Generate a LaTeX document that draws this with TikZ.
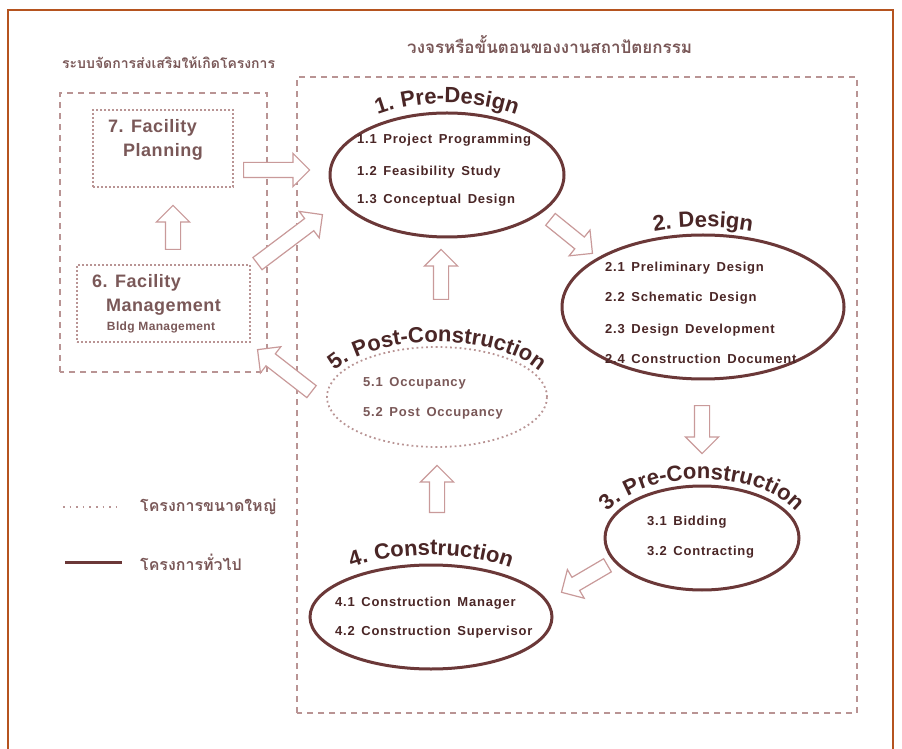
\documentclass[tikz,border=0pt]{standalone}
\usepackage{fontspec}
\setmainfont{Liberation Sans}
\newfontfamily\thaifont[Script=Thai]{Loma}
\newfontfamily\itemfont[LetterSpace=6,WordSpace=1.5]{Liberation Sans}
\newfontfamily\headfont[LetterSpace=3]{Liberation Sans}
\usetikzlibrary{shapes.arrows,shapes.geometric,decorations.text,calc}

\definecolor{framec}{HTML}{B5531F}
\definecolor{ring}{HTML}{6B3838}
\definecolor{ink}{HTML}{4A2626}
\definecolor{soft}{HTML}{7A5858}
\definecolor{dashc}{HTML}{B99494}
\definecolor{arrowc}{HTML}{C99A9A}

% block arrow between two named points: name, tail, tip
\newcommand\blockarrow[3]{%
  \path let \p1=(#2), \p2=(#3),
    \n1={atan2(\y2-\y1,\x2-\x1)}, \n2={veclen(\x2-\x1,\y2-\y1)} in
    node[fatarrow, rotate=\n1, minimum height=\n2, anchor=tail] (#1) at (#2) {};}

% curved heading over a phase ellipse: ellipse node, x radius, y radius, text
\newcommand\phasetitle[4]{%
  \path[decorate, decoration={text along path, text align=center, text color=ink,
      text={|\headfont\bfseries\fontsize{22}{26}\selectfont|#4}}]
    ($(#1.center)+(-#2,0)$) arc[start angle=180, end angle=0, x radius=#2, y radius=#3];}

\tikzset{
  dashbox/.style={draw=dashc, line width=1.2pt, dash pattern=on 6pt off 5pt},
  dotbox/.style={draw=dashc, line width=1.6pt, dash pattern=on 1.6pt off 2.4pt},
  phase/.style={draw=ring, line width=3pt, ellipse, inner sep=0pt},
  lightphase/.style={draw=dashc, line width=1.8pt, dash pattern=on 1.8pt off 3pt, ellipse, inner sep=0pt},
  item/.style={anchor=west, inner sep=0pt, text=ink, font=\itemfont\bfseries\fontsize{13}{15}\selectfont},
  softitem/.style={item, text=soft},
  facility/.style={inner sep=0pt, text=soft, font=\headfont\bfseries\fontsize{18}{20}\selectfont},
  thaititle/.style={anchor=west, inner sep=0pt, text=soft, font=\thaifont\bfseries\fontsize{15}{18}\selectfont},
  fatarrow/.style={shape=single arrow, draw=arrowc, fill=white, line width=1.2pt,
    inner sep=7pt, single arrow head extend=9pt, single arrow tip angle=90,
    single arrow head indent=0pt},
}

\begin{document}
\begin{tikzpicture}[x=1pt,y=1pt]
\useasboundingbox (0,0) rectangle (902,748);
\fill[white] (0,0) rectangle (902,748);

% outer frame
\draw[framec, line width=2pt] (8,-10) -- (8,738) -- (893,738) -- (893,-10);

% headings
\node[thaititle, font=\thaifont\bfseries\fontsize{14}{17}\selectfont] (lefthead) at (62,685) {ระบบจัดการส่งเสริมให้เกิดโครงการ};
\node[thaititle, font=\thaifont\bfseries\fontsize{17}{20}\selectfont] (righthead) at (407,703) {วงจรหรือขั้นตอนของงานสถาปัตยกรรม};

% group frames
\draw[dashbox] (60,376) rectangle (267,655);
\draw[dashbox] (297,35) rectangle (857,671);

% facility boxes
\node[dotbox, minimum width=140pt, minimum height=77pt] (plan) at (163,599.5) {};
\node[facility, anchor=west] (plan1) at (108,620) {7. Facility};
\node[facility] (plan2) at (163,596) {Planning};

\node[dotbox, minimum width=173pt, minimum height=77pt] (mgmt) at (163.5,444.5) {};
\node[facility, anchor=west] (mgmt1) at (92,465) {6. Facility};
\node[facility] (mgmt2) at (163.5,441) {Management};
\node[facility, font=\headfont\bfseries\fontsize{12}{14}\selectfont] (mgmt3) at (161,421) {Bldg Management};

% phase ellipses
\node[phase, minimum width=234pt, minimum height=124pt] (pre) at (447,573) {};
\node[phase, minimum width=282pt, minimum height=144pt] (des) at (703,441) {};
\node[phase, minimum width=194pt, minimum height=104pt] (pcon) at (702,210) {};
\node[phase, minimum width=242pt, minimum height=104pt] (con) at (431,131) {};
\node[lightphase, minimum width=220pt, minimum height=100pt] (post) at (437,351) {};

% curved headings
\phasetitle{pre}{127}{72}{1. Pre-Design}
\phasetitle{des}{150}{80}{2. Design}
\phasetitle{pcon}{105}{59}{3. Pre-Construction}
\phasetitle{con}{131}{62}{4. Construction}
\phasetitle{post}{116}{55}{5. Post-Construction}

% phase contents
\node[item] (pre1) at (357,608) {1.1 Project Programming};
\node[item] (pre2) at (357,576) {1.2 Feasibility Study};
\node[item] (pre3) at (357,548) {1.3 Conceptual Design};

\node[item] (des1) at (605,480) {2.1 Preliminary Design};
\node[item] (des2) at (605,450) {2.2 Schematic Design};
\node[item] (des3) at (605,418) {2.3 Design Development};
\node[item] (des4) at (605,389) {2.4 Construction Document};

\node[item] (pcon1) at (647,226) {3.1 Bidding};
\node[item] (pcon2) at (647,196) {3.2 Contracting};

\node[item] (con1) at (335,145) {4.1 Construction Manager};
\node[item] (con2) at (335,116) {4.2 Construction Supervisor};

\node[softitem] (post1) at (363,365) {5.1 Occupancy};
\node[softitem] (post2) at (363,335) {5.2 Post Occupancy};

% flow arrows
\coordinate (a1s) at (243,578); \coordinate (a1e) at (309,578);
\coordinate (a2s) at (257,484); \coordinate (a2e) at (322,533);
\coordinate (a3s) at (312,356); \coordinate (a3e) at (258,398);
\coordinate (a4s) at (173,498); \coordinate (a4e) at (173,542);
\coordinate (a5s) at (550,529); \coordinate (a5e) at (592,495);
\coordinate (a6s) at (441,448); \coordinate (a6e) at (441,498);
\coordinate (a7s) at (702,343); \coordinate (a7e) at (702,295);
\coordinate (a8s) at (608,183); \coordinate (a8e) at (562,156);
\coordinate (a9s) at (437,235); \coordinate (a9e) at (437,282);
\blockarrow{planToPre}{a1s}{a1e}
\blockarrow{mgmtToPre}{a2s}{a2e}
\blockarrow{postToMgmt}{a3s}{a3e}
\blockarrow{mgmtToPlan}{a4s}{a4e}
\blockarrow{preToDes}{a5s}{a5e}
\blockarrow{postToPre}{a6s}{a6e}
\blockarrow{desToPcon}{a7s}{a7e}
\blockarrow{pconToCon}{a8s}{a8e}
\blockarrow{conToPost}{a9s}{a9e}

% legend
\coordinate (lg1s) at (63,241); \coordinate (lg1e) at (122,241);
\coordinate (lg2s) at (65,186); \coordinate (lg2e) at (122,186);
\draw[dashc, line width=1.6pt, dash pattern=on 1.6pt off 5pt] (lg1s) -- (lg1e);
\draw[ring, line width=3pt] (lg2s) -- (lg2e);
\node[thaititle, font=\thaifont\bfseries\fontsize{16}{19}\selectfont] (lgt1) at (140,241) {โครงการขนาดใหญ่};
\node[thaititle, font=\thaifont\bfseries\fontsize{16}{19}\selectfont] (lgt2) at (140,186) {โครงการทั่วไป};
\end{tikzpicture}
\end{document}
